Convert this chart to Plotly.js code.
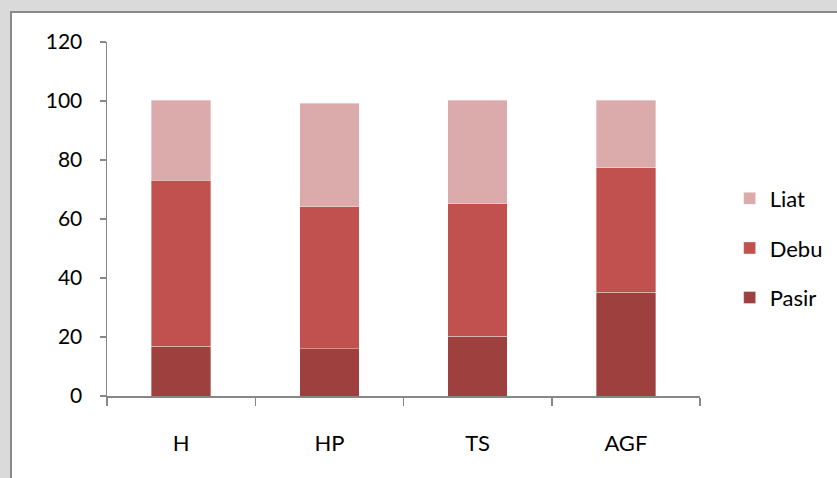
<!DOCTYPE html>
<html>
<head>
<meta charset="utf-8">
<script src="https://cdn.plot.ly/plotly-3.0.1.min.js"></script>
<style>
  html, body { margin: 0; padding: 0; width: 837px; height: 478px; overflow: hidden; background: #dadada; }
  #frame { position: absolute; left: 10px; top: 11px; width: 900px; height: 520px; background: #ffffff;
           border-left: 2px solid #8a8a8a; border-top: 2px solid #8a8a8a; }
  #chart { position: absolute; left: 0; top: 0; width: 870px; height: 465px; }
</style>
</head>
<body>
<div id="frame"><div id="chart"></div></div>
<script>
const categories = ["H", "HP", "TS", "AGF"];
const pasir = [16.8, 16.0, 20.2, 35.2];
const debu  = [56.4, 48.1, 44.9, 42.1];
const liat  = [27.0, 35.1, 35.1, 22.9];
const seriesNames = ["Pasir", "Debu", "Liat"];
const seriesColors = ["#9d403e", "#c0514e", "#dbaaaa"];
const legendRanks = [3, 2, 1];
const yTicks = [0, 20, 40, 60, 80, 100, 120];

const seriesValues = [pasir, debu, liat];
const traces = seriesValues.map((vals, i) => ({
  type: "bar",
  name: seriesNames[i],
  x: categories,
  y: vals,
  width: 0.4,
  legendgroup: seriesNames[i],
  legendrank: legendRanks[i],
  marker: { color: seriesColors[i], line: { color: "rgba(255,255,255,0.45)", width: 0.8 } },
  hoverinfo: "x+y+name"
}));

const font = "Lato, 'Open Sans', sans-serif";
const layout = {
  width: 870, height: 465,
  margin: { l: 95, r: 182, t: 29, b: 82 },
  barmode: "stack",
  paper_bgcolor: "rgba(0,0,0,0)",
  plot_bgcolor: "#ffffff",
  font: { family: font, size: 21, color: "#000000" },
  xaxis: {
    type: "category",
    range: [-0.5, 3.5],
    showgrid: false, zeroline: false,
    showline: true, linecolor: "#878787", linewidth: 1.5,
    ticks: "outside", tickson: "boundaries", ticklen: 8, tickwidth: 1.5, tickcolor: "#878787",
    ticklabelstandoff: 27,
    tickfont: { family: font, size: 22, color: "#000000" }
  },
  yaxis: {
    range: [0, 120],
    tickvals: yTicks,
    ticktext: yTicks.map(String),
    showgrid: false, zeroline: false,
    showline: true, linecolor: "#878787", linewidth: 1.5,
    ticks: "outside", ticklen: 6, tickwidth: 1.5, tickcolor: "#878787",
    ticklabelstandoff: 13,
    tickfont: { family: font, size: 21, color: "#000000" }
  },
  showlegend: true,
  legend: {
    x: 1.05, xanchor: "left",
    y: 0.418, yanchor: "middle",
    traceorder: "grouped",
    tracegroupgap: 18,
    bgcolor: "rgba(0,0,0,0)",
    font: { family: font, size: 22, color: "#000000" }
  }
};

Plotly.newPlot("chart", traces, layout, { displayModeBar: false, staticPlot: true });
</script>
</body>
</html>
